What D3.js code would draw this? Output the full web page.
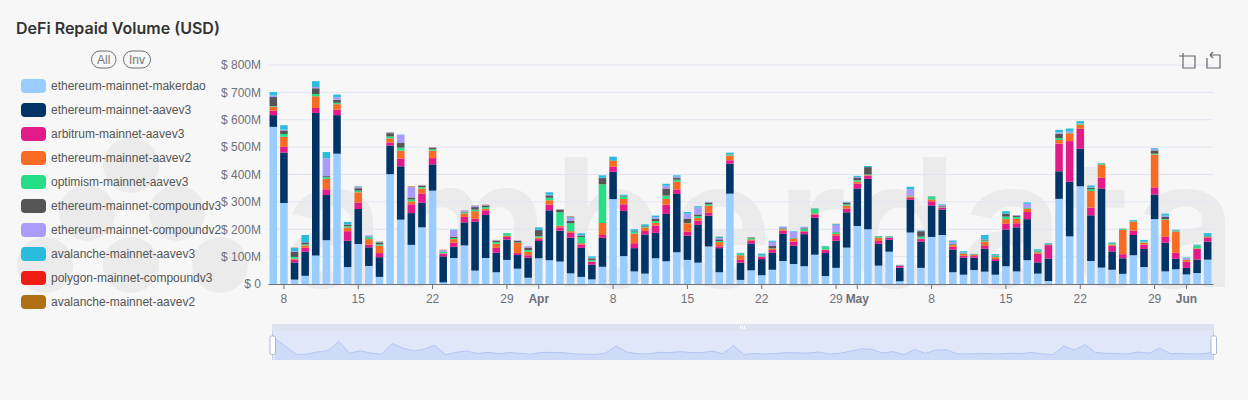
<!DOCTYPE html>
<html>
<head>
<meta charset="utf-8">
<script src="https://cdn.jsdelivr.net/npm/d3@7"></script>
<style>
  html, body { margin: 0; padding: 0; background: #f7f7f7; }
  svg { display: block; font-family: "Liberation Sans", Arial, sans-serif; }
  .axis text { fill: #6e7079; font-size: 12px; font-family: "Liberation Sans", Arial, sans-serif; }
  .axis .domain, .axis line { stroke: #6e7079; }
</style>
</head>
<body>
<svg width="1248" height="400"></svg>
<script>
var seriesNames = ["ethereum-mainnet-makerdao", "ethereum-mainnet-aavev3", "arbitrum-mainnet-aavev3", "ethereum-mainnet-aavev2", "optimism-mainnet-aavev3", "ethereum-mainnet-compoundv3", "ethereum-mainnet-compoundv2", "avalanche-mainnet-aavev3", "polygon-mainnet-compoundv3", "avalanche-mainnet-aavev2"];
var seriesColors = ["#99ccff", "#003366", "#e31b8a", "#f76b24", "#26dd88", "#555555", "#a99bf9", "#29bcdd", "#ee1c14", "#b07016"];

// values in $M, one per day from 7 Mar to 3 Jun
var makerdao = [574,296,16,30,104,160,476,62,146,66, 26,401,235,143,207,341,6,95,141,49, 95,43,88,56,23,94,87,82,39,26, 17,63,310,102,46,38,94,83,116,88, 78,137,43,330,15,50,32,52,84,73, 65,107,29,59,133,212,200,67,118,10, 188,59,172,179,43,34,51,45,34,65, 46,87,38,11,311,174,357,84,60,52, 37,105,62,237,46,54,35,40,89];
var aavev3 = [43,184,63,88,521,165,141,96,128,68, 72,105,195,116,90,96,95,41,84,178, 157,71,74,50,73,63,182,113,130,106, 54,106,100,165,85,143,93,173,213,89, 138,113,88,110,63,98,59,62,99,67, 117,135,84,99,129,137,184,80,44,50, 120,96,115,93,83,62,45,84,50,134, 161,150,41,82,101,200,137,167,289,67, 57,74,66,90,105,38,24,49,66];
var arbitrumAavev3 = [16,21,10,15,18,21,20,35,24,10, 15,11,28,32,34,23,10,15,20,11, 17,18,10,7,9,7,21,12,18,12, 10,10,18,24,18,13,26,34,16,15, 15,10,7,12,10,10,9,10,12,15, 10,12,11,20,13,18,12,10,7,6, 7,9,15,6,10,7,6,10,7,21, 15,26,32,49,101,148,73,28,39,21, 15,16,16,26,21,22,22,39,15];
var aavev2 = [15,37,3,8,43,38,20,13,37,20, 27,15,29,11,18,27,1,13,13,28, 6,15,4,37,13,6,16,6,6,5, 2,44,22,20,35,12,11,21,29,30, 10,26,15,17,17,5,1,5,5,10, 1,4,2,5,11,7,2,12,1,1, 5,2,7,2,6,7,5,16,7,17, 16,12,5,1,13,28,15,61,48,4, 89,33,7,120,63,78,7,2,2];
var optimismAavev3 = [2,10,7,4,8,6,5,5,6,7, 5,7,11,7,5,5,6,4,4,6, 6,6,10,2,6,5,9,49,29,23, 5,141,2,9,7,4,6,12,7,1, 7,5,4,2,5,5,2,1,2,2, 9,16,10,6,5,5,2,4,3,1, 2,7,9,1,2,2,1,4,4,9, 7,2,4,2,7,1,4,7,4,5, 3,2,3,3,2,2,1,10,2];
var compoundv3 = [33,13,18,7,21,4,11,6,9,2, 7,12,17,7,5,5,1,5,2,9, 6,5,0,6,9,22,9,10,9,5, 6,23,1,2,2,2,9,26,6,16, 6,6,6,2,1,2,1,9,2,2, 2,1,1,1,6,10,27,1,1,1, 1,20,1,3,2,1,1,3,2,11, 5,1,1,1,16,1,1,4,1,1, 1,1,1,12,8,1,1,1,1];
var compoundv2 = [6,3,3,1,5,65,9,1,4,4, 1,2,30,39,2,2,5,24,4,5, 2,2,0,1,5,1,2,1,11,1, 2,1,0,0,0,0,5,10,5,18, 26,2,5,1,0,1,0,15,5,22, 4,0,0,26,1,2,0,0,0,0, 23,1,0,4,8,3,0,1,1,0, 1,15,1,0,5,5,1,2,0,0, 0,0,0,5,5,0,5,0,0];
var avalancheAavev3 = [12,16,12,26,21,23,10,9,2,1, 1,1,1,0,0,0,0,2,0,0, 0,0,0,0,0,9,9,0,3,7, 5,9,12,4,7,6,6,7,5,6, 4,1,4,6,3,0,7,4,1,2, 1,1,2,3,2,4,4,1,1,1, 9,2,1,3,5,4,1,16,4,9, 0,5,5,3,9,11,7,7,1,2, 0,3,6,3,7,3,2,3,11];
var polygonCompoundv3 = [0,0,0,0,0,0,0,0,0,0, 0,0,0,1,0,0,1,0,0,0, 0,0,0,0,0,0,0,0,1,0, 0,0,0,0,0,0,0,0,0,0, 0,0,0,0,0,0,0,0,0,0, 0,0,0,0,0,0,0,0,0,0, 0,0,0,0,0,0,0,0,0,0, 0,0,0,0,0,0,0,0,0,0, 0,0,0,0,0,0,0,0,0];
var avalancheAavev2 = [0,0,1,0,0,0,0,0,1,0, 1,1,0,1,1,1,0,0,1,1, 1,1,0,0,0,0,0,0,1,0, 0,0,0,0,0,0,0,0,0,0, 0,0,1,0,0,0,0,0,0,0, 0,0,0,1,0,0,0,0,0,0, 0,0,0,0,0,0,0,0,0,0, 0,0,0,0,0,0,0,0,0,0, 0,0,0,0,0,0,0,0,0];
var seriesValues = [makerdao, aavev3, arbitrumAavev3, aavev2, optimismAavev3, compoundv3, compoundv2, avalancheAavev3, polygonCompoundv3, avalancheAavev2];

var tickDates = ["03-08","03-15","03-22","03-29","04-01","04-08","04-15","04-22","04-29","05-01","05-08","05-15","05-22","05-29","06-01"];
var tickLabels = ["8","15","22","29","Apr","8","15","22","29","May","8","15","22","29","Jun"];
var yTicks = [0,100,200,300,400,500,600,700,800];

var fmtDay = d3.utcFormat("%m-%d");
var days = d3.utcDay.range(new Date(Date.UTC(2024, 2, 7)), new Date(Date.UTC(2024, 5, 4))).map(fmtDay);

var svg = d3.select("svg");
var margin = {top: 65, right: 35, bottom: 116, left: 268},
    width = +svg.attr("width") - margin.left - margin.right,
    height = +svg.attr("height") - margin.top - margin.bottom;

// watermark
var mark = svg.append("g").attr("fill", "#ebebeb");
mark.selectAll("circle")
    .data([[131,165],[87,213],[177,213],[45,265],[131,265],[220,265]])
    .enter().append("circle")
      .attr("cx", function(d) { return d[0]; })
      .attr("cy", function(d) { return d[1]; })
      .attr("r", 28);
mark.append("text")
    .attr("x", 283)
    .attr("y", 287)
    .attr("font-family", "Inter, sans-serif")
    .attr("font-size", 178)
    .attr("font-weight", 600)
    .attr("textLength", 954)
    .attr("lengthAdjust", "spacing")
    .text("amberdata");

svg.append("text")
    .attr("x", 16)
    .attr("y", 34)
    .attr("font-family", "Inter, sans-serif")
    .attr("font-size", 16)
    .attr("font-weight", 600)
    .attr("fill", "#333")
    .text("DeFi Repaid Volume (USD)");

var x = d3.scaleBand().domain(days).range([0, width]).paddingInner(0.29).paddingOuter(0.145),
    y = d3.scaleLinear().domain([0, 800]).range([height, 0]);

var g = svg.append("g")
    .attr("transform", "translate(" + margin.left + "," + margin.top + ")");

g.append("g")
    .selectAll("line")
    .data(yTicks.slice(1))
    .enter().append("line")
      .attr("x1", 0)
      .attr("x2", width)
      .attr("y1", function(d) { return y(d); })
      .attr("y2", function(d) { return y(d); })
      .attr("stroke", "#e0e6f1");

g.append("g")
    .attr("class", "axis")
    .call(d3.axisLeft(y).tickValues(yTicks).tickSize(0).tickPadding(7).tickFormat(function(d) { return "$ " + d + (d ? "M" : ""); }))
    .call(function(a) { a.select(".domain").remove(); });

// one row per day for d3.stack
var rows = days.map(function(d, i) {
  var row = {day: d};
  seriesNames.forEach(function(n, j) { row[n] = seriesValues[j][i]; });
  return row;
});
var stacked = d3.stack().keys(seriesNames)(rows);

g.selectAll(".layer")
    .data(stacked)
    .enter().append("g")
      .attr("class", "layer")
      .attr("fill", function(d, i) { return seriesColors[i]; })
    .selectAll("rect")
    .data(function(d) { return d; })
    .enter().append("rect")
      .attr("x", function(d) { return x(d.data.day); })
      .attr("y", function(d) { return y(d[1]); })
      .attr("width", x.bandwidth())
      .attr("height", function(d) { return y(d[0]) - y(d[1]); });

var xAxis = g.append("g")
    .attr("class", "axis")
    .attr("transform", "translate(0," + height + ")")
    .call(d3.axisBottom(x).tickValues(tickDates).tickSize(5).tickSizeOuter(0).tickPadding(5).tickFormat(function(d, i) { return tickLabels[i]; }));
xAxis.selectAll("text")
    .attr("font-weight", function(d, i) { return isNaN(+tickLabels[i]) ? 700 : 400; });

// legend
var legend = svg.append("g");
legend.selectAll("rect")
    .data(seriesNames)
    .enter().append("rect")
      .attr("x", 21)
      .attr("y", function(d, i) { return 79 + i * 24; })
      .attr("width", 25)
      .attr("height", 14)
      .attr("rx", 4)
      .attr("fill", function(d, i) { return seriesColors[i]; });
legend.selectAll("text")
    .data(seriesNames)
    .enter().append("text")
      .attr("x", 51)
      .attr("y", function(d, i) { return 90 + i * 24; })
      .attr("font-size", 12)
      .attr("fill", "#555")
      .text(function(d) { return d; });

var buttons = svg.append("g").selectAll("g")
    .data([{t: "All", x: 91.5, w: 24.5}, {t: "Inv", x: 123.5, w: 27}])
    .enter().append("g");
buttons.append("rect")
    .attr("x", function(d) { return d.x; })
    .attr("y", 51)
    .attr("width", function(d) { return d.w; })
    .attr("height", 17)
    .attr("rx", 8.5)
    .attr("fill", "none")
    .attr("stroke", "#6e7079");
buttons.append("text")
    .attr("x", function(d) { return d.x + d.w / 2; })
    .attr("y", 64)
    .attr("text-anchor", "middle")
    .attr("font-size", 12)
    .attr("fill", "#777")
    .text(function(d) { return d.t; });

// toolbox icons
svg.append("path")
    .attr("d", "M1181 56H1195V68H1183V53M1181 56H1179M1207 58V68H1220V55H1210M1210 55L1213 52M1210 55L1213 58")
    .attr("fill", "none")
    .attr("stroke", "#666")
    .attr("stroke-width", 1.2);

// data zoom slider, shadow is the first series
var slider = svg.append("g");
slider.append("rect").attr("x", 272).attr("y", 324).attr("width", 942).attr("height", 7).attr("fill", "#dde3f0");
slider.append("rect").attr("x", 272).attr("y", 331).attr("width", 942).attr("height", 29).attr("fill", "#e0e7f8");

var sx = d3.scalePoint().domain(days).range([275, 1213]),
    sy = d3.scaleLinear().domain([0, 574]).range([355, 338.5]);

slider.append("path")
    .datum(makerdao)
    .attr("fill", "#cddbf8")
    .attr("d", d3.area()
      .x(function(d, i) { return sx(days[i]); })
      .y0(360)
      .y1(function(d) { return sy(d); }));
slider.append("path")
    .datum(makerdao)
    .attr("fill", "none")
    .attr("stroke", "#b3c7f5")
    .attr("d", d3.line()
      .x(function(d, i) { return sx(days[i]); })
      .y(function(d) { return sy(d); }));

slider.selectAll(".edge")
    .data([272.5, 1213.5])
    .enter().append("line")
      .attr("class", "edge")
      .attr("x1", function(d) { return d; })
      .attr("x2", function(d) { return d; })
      .attr("y1", 331)
      .attr("y2", 360)
      .attr("stroke", "#c4cfea");
slider.selectAll(".handle")
    .data([270, 1211])
    .enter().append("rect")
      .attr("class", "handle")
      .attr("x", function(d) { return d; })
      .attr("y", 336)
      .attr("width", 5.5)
      .attr("height", 18.5)
      .attr("rx", 1.5)
      .attr("fill", "#fff")
      .attr("stroke", "#acb8d1");
slider.selectAll(".grip")
    .data([740.5, 742.5, 744.5])
    .enter().append("line")
      .attr("class", "grip")
      .attr("x1", function(d) { return d; })
      .attr("x2", function(d) { return d; })
      .attr("y1", 326)
      .attr("y2", 329)
      .attr("stroke", "#fff");
</script>
</body>
</html>
